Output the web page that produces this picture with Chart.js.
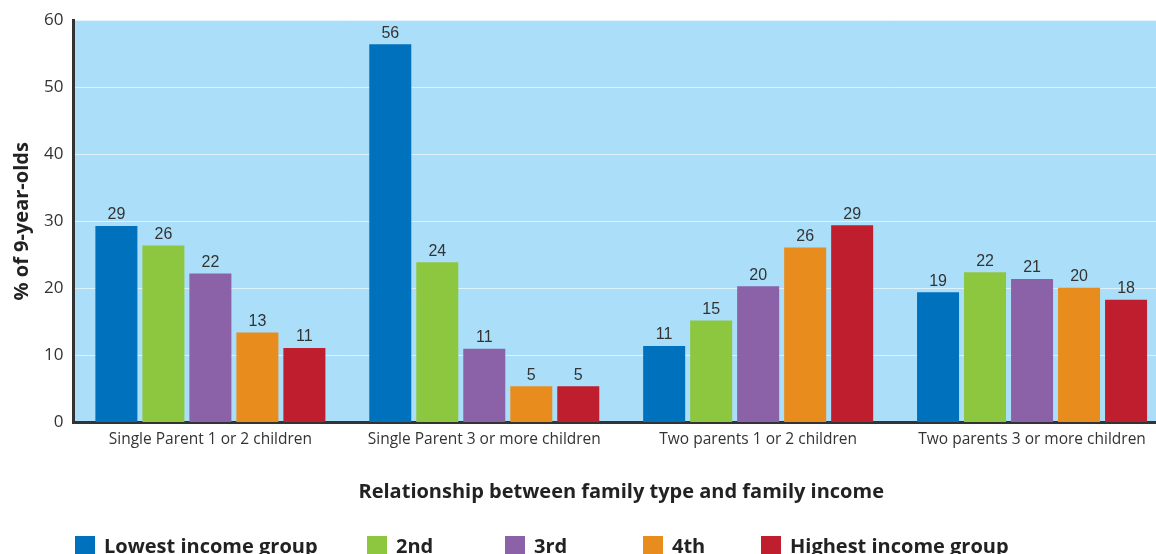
<!DOCTYPE html>
<html>
<head>
<meta charset="utf-8">
<script src="https://cdn.jsdelivr.net/npm/chart.js@4/dist/chart.umd.min.js"></script>
<style>
  html, body { margin: 0; padding: 0; background: #fff; overflow: hidden; }
  #wrap { position: relative; width: 1156px; height: 554px; overflow: hidden; }
  #box { position: absolute; left: 0; top: 0; width: 1172px; height: 554px; }
  #legend { position: absolute; left: 0; top: 532px; width: 1156px; height: 30px;
    font-family: "Open Sans", sans-serif; font-weight: bold; font-size: 20px; color: #222; }
  .item { position: absolute; top: 0; display: flex; align-items: center; white-space: nowrap; }
  .sw { width: 20px; height: 20px; margin-right: 9px; }
</style>
</head>
<body>
<div id="wrap">
  <div id="box"><canvas id="chart"></canvas></div>
  <div id="legend"></div>
</div>
<script>
const categories = ['Single Parent 1 or 2 children', 'Single Parent 3 or more children', 'Two parents 1 or 2 children', 'Two parents 3 or more children'];
const seriesNames = ['Lowest income group', '2nd', '3rd', '4th', 'Highest income group'];
const lowest = [29.3, 56.4, 11.4, 19.4];
const second = [26.4, 23.9, 15.2, 22.4];
const third = [22.2, 11.0, 20.3, 21.4];
const fourth = [13.4, 5.4, 26.1, 20.1];
const highest = [11.1, 5.4, 29.4, 18.3];
const yTicks = [0, 10, 20, 30, 40, 50, 60];
const colors = ['#0071bc', '#8dc63f', '#8b62a8', '#e88c1d', '#be1e2d'];
const legendLeft = [75, 367, 505, 643, 761];

const allSeries = [lowest, second, third, fourth, highest];

// plot background
const plotBg = {
  id: 'plotBg',
  beforeDraw(chart) {
    const a = chart.chartArea;
    const ctx = chart.ctx;
    ctx.save();
    ctx.fillStyle = '#abdff9';
    ctx.fillRect(a.left, a.top, a.right - a.left, a.bottom - a.top);
    ctx.restore();
  }
};

// value labels above bars
const barLabels = {
  id: 'barLabels',
  afterDatasetsDraw(chart) {
    const ctx = chart.ctx;
    ctx.save();
    ctx.font = '16px "Liberation Sans", Arial, sans-serif';
    ctx.fillStyle = '#333';
    ctx.textAlign = 'center';
    ctx.textBaseline = 'bottom';
    chart.data.datasets.forEach((ds, i) => {
      chart.getDatasetMeta(i).data.forEach((bar, j) => {
        ctx.fillText(Math.round(ds.data[j]), bar.x, bar.y - 3);
      });
    });
    ctx.restore();
  }
};

new Chart(document.getElementById('chart'), {
  type: 'bar',
  data: {
    labels: categories,
    datasets: allSeries.map((d, i) => ({
      label: seriesNames[i],
      data: d,
      backgroundColor: colors[i],
      categoryPercentage: 0.858,
      barPercentage: 0.894
    }))
  },
  options: {
    responsive: true,
    maintainAspectRatio: false,
    animation: false,
    layout: { padding: { top: 18, right: 3, bottom: 46, left: 4 } },
    plugins: {
      legend: { display: false },
      tooltip: { enabled: false }
    },
    scales: {
      x: {
        grid: { color: 'rgba(0,0,0,0)', drawTicks: false },
        border: { color: '#333', width: 3 },
        ticks: { color: '#333', font: { family: 'Open Sans', size: 15.5 }, padding: 8 },
        title: {
          display: true,
          text: 'Relationship between family type and family income',
          color: '#222',
          font: { family: 'Open Sans', size: 20, weight: 'bold' },
          padding: { top: 23 }
        }
      },
      y: {
        min: 0,
        max: 60,
        afterBuildTicks(scale) { scale.ticks = yTicks.map(v => ({ value: v })); },
        grid: { color: 'rgba(255,255,255,0.6)', lineWidth: 1, drawTicks: false },
        border: { color: '#333', width: 3 },
        ticks: { color: '#333', font: { family: 'Open Sans', size: 17 }, padding: 10 },
        title: {
          display: true,
          text: '% of 9-year-olds',
          color: '#222',
          font: { family: 'Open Sans', size: 20, weight: 'bold' },
          padding: { top: 6, bottom: 0 }
        }
      }
    }
  },
  plugins: [plotBg, barLabels]
});

// legend
const legend = document.getElementById('legend');
seriesNames.forEach((name, i) => {
  const item = document.createElement('div');
  item.className = 'item';
  item.style.left = legendLeft[i] + 'px';
  const sw = document.createElement('span');
  sw.className = 'sw';
  sw.style.background = colors[i];
  const txt = document.createElement('span');
  txt.textContent = name;
  item.appendChild(sw);
  item.appendChild(txt);
  legend.appendChild(item);
});
</script>
</body>
</html>
